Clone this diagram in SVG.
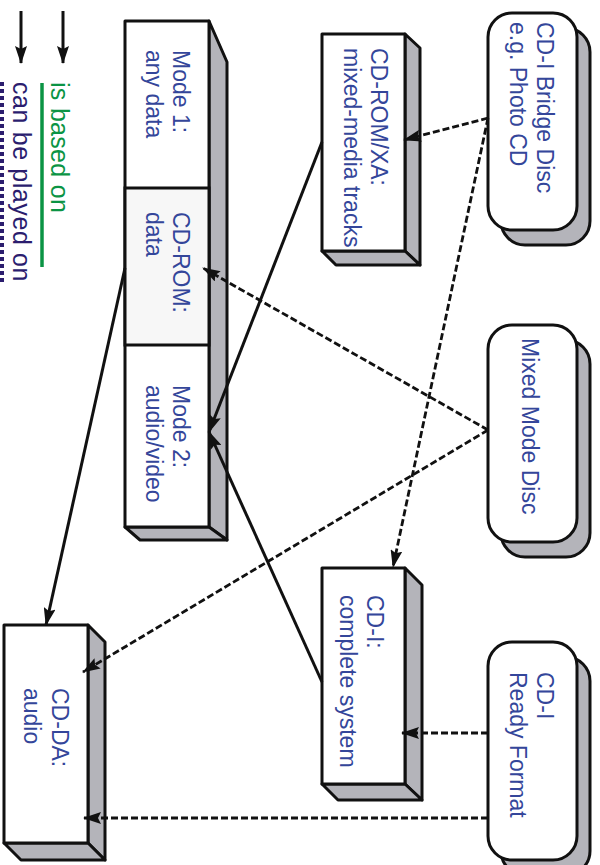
<svg xmlns="http://www.w3.org/2000/svg" width="600" height="865" viewBox="0 0 600 865">
<style>
.face{fill:#ffffff;stroke:#111;stroke-width:3;stroke-linejoin:round}
.side{fill:#b4b4ba;stroke:#111;stroke-width:3;stroke-linejoin:round}
.lbl{font-family:"Liberation Sans",Arial,sans-serif;font-size:23px;fill:#34469a}
.solid{stroke:#111;stroke-width:3;fill:none}
.dash{stroke:#111;stroke-width:2.8;fill:none;stroke-dasharray:7 3}
</style>
<defs>
<marker id="ah" markerUnits="userSpaceOnUse" markerWidth="18" markerHeight="12" refX="17" refY="6" orient="auto">
<path d="M0,0 L18,6 L0,12 L3,6 Z" fill="#111"/>
</marker>
</defs>
<rect width="600" height="865" fill="#fff"/>

<g id="legend">
<line class="solid" x1="21" y1="11" x2="21" y2="63" marker-end="url(#ah)"/>
<line class="solid" x1="63" y1="11" x2="63" y2="63" marker-end="url(#ah)"/>
<line x1="42" y1="83" x2="42" y2="267" stroke="#0b9444" stroke-width="3.5"/>
<text transform="translate(51,82) rotate(90)" font-family="Liberation Sans,Arial,sans-serif" font-size="25" fill="#0b9444" letter-spacing="0.3">is based on</text>
<line x1="2" y1="82" x2="2" y2="284" stroke="#2b1d6e" stroke-width="4" stroke-dasharray="4 3"/>
<text transform="translate(13,82) rotate(90)" font-family="Liberation Sans,Arial,sans-serif" font-size="25" fill="#2b1d6e" letter-spacing="0.6">can be played on</text>
</g>

<g id="stack">
<polygon class="side" points="209,21 227,62 227,540 209,527"/>
<polygon class="side" points="125,527 140,540 227,540 209,527"/>
<rect class="face" x="125" y="21" width="84" height="506"/>
<rect x="125" y="188" width="84" height="157" fill="#f7f7f7" stroke="#111" stroke-width="3"/>
<text class="lbl" transform="translate(173,50) rotate(90)">Mode 1:<tspan x="0" dy="27">any data</tspan></text>
<text class="lbl" transform="translate(173,212) rotate(90)">CD-ROM:<tspan x="0" dy="27">data</tspan></text>
<text class="lbl" transform="translate(173,385) rotate(90)">Mode 2:<tspan x="0" dy="27">audio/video</tspan></text>
</g>

<g id="cdromxa">
<polygon class="side" points="405,34 420,48 420,265 405,251"/>
<polygon class="side" points="322,251 336,265 420,265 405,251"/>
<rect class="face" x="322" y="34" width="83" height="217"/>
<text class="lbl" transform="translate(371,48) rotate(90)">CD-ROM/XA:<tspan x="0" dy="27">mixed-media tracks</tspan></text>
</g>

<g id="cdi">
<polygon class="side" points="405,568 422,585 422,800 405,784"/>
<polygon class="side" points="322,784 338,800 422,800 405,784"/>
<rect class="face" x="322" y="568" width="83" height="216"/>
<text class="lbl" transform="translate(367,595) rotate(90)">CD-I:<tspan x="0" dy="27">complete system</tspan></text>
</g>

<g id="cdda">
<polygon class="side" points="88,625 105,642 105,860 88,843"/>
<polygon class="side" points="4,843 21,860 105,860 88,843"/>
<rect class="face" x="4" y="625" width="84" height="218"/>
<text class="lbl" transform="translate(52,688) rotate(90)">CD-DA:<tspan x="0" dy="28">audio</tspan></text>
</g>

<g id="bridge">
<rect class="side" x="501" y="28" width="89" height="217" rx="24"/>
<rect class="face" x="488" y="13" width="89" height="217" rx="24"/>
<text class="lbl" transform="translate(537,22) rotate(90)">CD-I Bridge Disc<tspan x="0" dy="27">e.g. Photo CD</tspan></text>
</g>

<g id="mixed">
<rect class="side" x="501" y="340" width="89" height="217" rx="24"/>
<rect class="face" x="488" y="325" width="89" height="217" rx="24"/>
<text class="lbl" transform="translate(522,338) rotate(90)">Mixed Mode Disc</text>
</g>

<g id="ready">
<rect class="side" x="501" y="657" width="89" height="218" rx="24"/>
<rect class="face" x="488" y="642" width="89" height="218" rx="24"/>
<text class="lbl" transform="translate(537,672) rotate(90)">CD-I<tspan x="0" dy="27">Ready Format</tspan></text>
</g>

<g id="connectors">
<line class="solid" x1="322" y1="142" x2="209" y2="432" marker-end="url(#ah)"/>
<line class="solid" x1="322" y1="682" x2="209" y2="432" marker-end="url(#ah)"/>
<line class="solid" x1="125" y1="268" x2="46" y2="625" marker-end="url(#ah)"/>
<line class="dash" x1="488" y1="118" x2="404" y2="140" marker-end="url(#ah)"/>
<line class="dash" x1="488" y1="118" x2="393" y2="567" marker-end="url(#ah)"/>
<line class="dash" x1="488" y1="430" x2="203" y2="268" marker-end="url(#ah)"/>
<line class="dash" x1="488" y1="430" x2="83" y2="672" marker-end="url(#ah)"/>
<line class="dash" x1="488" y1="733" x2="402" y2="733" marker-end="url(#ah)"/>
<line class="dash" x1="488" y1="818" x2="84" y2="818" marker-end="url(#ah)"/>
</g>
</svg>
